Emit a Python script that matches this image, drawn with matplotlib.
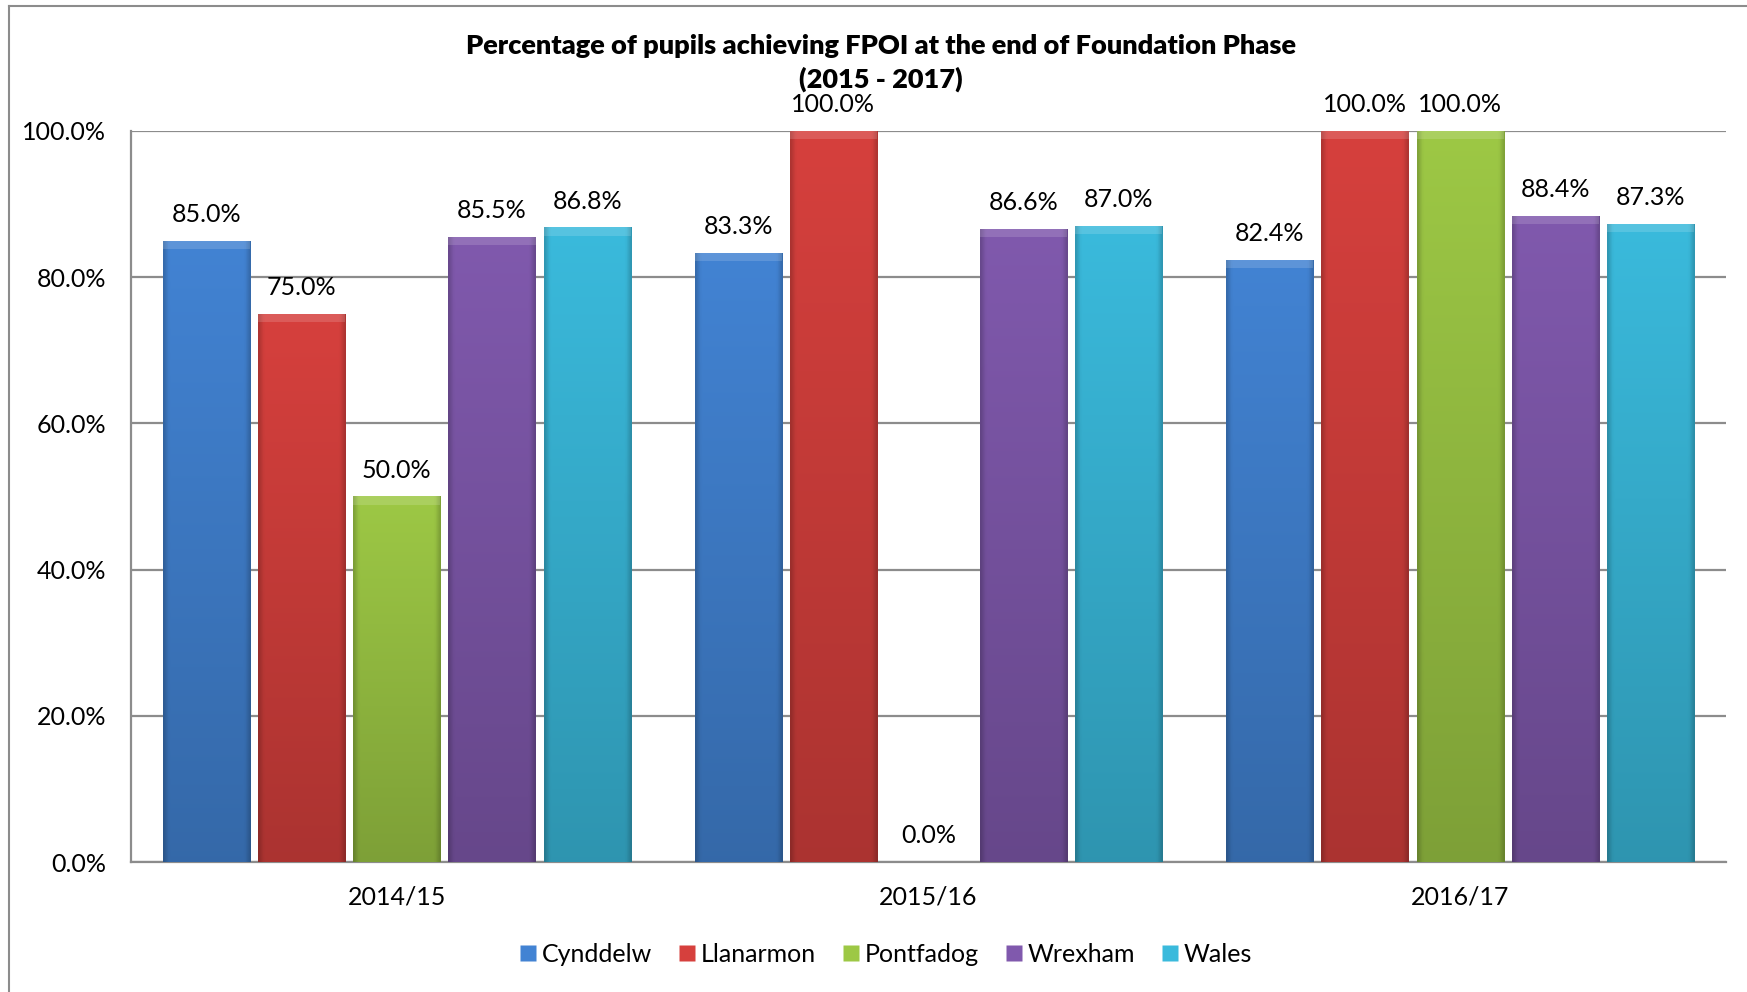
import numpy as np
import matplotlib
matplotlib.use("Agg")
from matplotlib import pyplot as plt
from matplotlib.lines import Line2D
from matplotlib.colors import to_rgb

# Data
years = ["2014/15", "2015/16", "2016/17"]
schools = ["Cynddelw", "Llanarmon", "Pontfadog", "Wrexham", "Wales"]
cynddelw = [85.0, 83.3, 82.4]
llanarmon = [75.0, 100.0, 100.0]
pontfadog = [50.0, 0.0, 100.0]
wrexham = [85.5, 86.6, 88.4]
wales = [86.8, 87.0, 87.3]
series = [cynddelw, llanarmon, pontfadog, wrexham, wales]

colors = ["#4283D3", "#D6403D", "#9DC845", "#8059AD", "#3ABADC"]

title = "Percentage of pupils achieving FPOI at the end of Foundation Phase\n(2015 - 2017)"

plt.rcParams["font.family"] = ["Lato", "DejaVu Sans"]

fig = plt.figure(figsize=(17.47, 9.92), dpi=100)
ax = fig.add_axes([131 / 1747, 1 - 862 / 992, (1726 - 131) / 1747, (862 - 131) / 992])

x = np.arange(len(years))
slot = 0.179
bw = 0.164
grid_col = "#8C8C8C"


def shade(color, w_px=40, h_px=200):
    """vertical + edge shading to fake the bevelled look"""
    base = np.array(to_rgb(color))
    v = np.linspace(1.0, 0.80, h_px)[:, None]
    u = np.linspace(0, 1, w_px)[None, :]
    edge = 1 - 0.18 * (np.clip(1 - u / 0.06, 0, 1) + np.clip((u - 0.94) / 0.06, 0, 1))
    f = v * edge
    img = base[None, None, :] * f[:, :, None]
    return np.clip(img, 0, 1)


for i, (vals, col) in enumerate(zip(series, colors)):
    pos = x + (i - 2) * slot
    bars = ax.bar(pos, vals, width=bw, color=col, zorder=3, edgecolor="none")
    for b, v in zip(bars, vals):
        if v > 0:
            img = shade(col)
            im = ax.imshow(img, extent=[b.get_x(), b.get_x() + b.get_width(), 0, v],
                           aspect="auto", zorder=4, interpolation="bilinear")
            im.set_clip_path(b)
            # lighter bevel on top
            ax.bar(b.get_x() + b.get_width() / 2, 1.1, bottom=v - 1.1, width=b.get_width(),
                   color="white", alpha=0.15, zorder=5, edgecolor="none")
        ax.annotate(f"{v:.1f}%", (b.get_x() + b.get_width() / 2, v),
                    xytext=(0, 19), textcoords="offset points",
                    ha="center", va="center", fontsize=18, zorder=6)

ax.set_xlim(-0.5, 2.5)
ax.set_ylim(0, 100)
ax.set_yticks([0, 20, 40, 60, 80, 100])
ax.set_yticklabels([f"{t:.1f}%" for t in [0, 20, 40, 60, 80, 100]])
ax.set_xticks(x)
ax.set_xticklabels(years)
ax.tick_params(axis="both", length=0, labelsize=18)
ax.tick_params(axis="y", pad=18)
ax.tick_params(axis="x", pad=17)
ax.yaxis.grid(True, color=grid_col, linewidth=1.6, zorder=1)
ax.set_axisbelow(True)
for s in ["top", "right"]:
    ax.spines[s].set_visible(False)
for s in ["left", "bottom"]:
    ax.spines[s].set_color(grid_col)
    ax.spines[s].set_linewidth(1.6)

fig.text(881 / 1747, 1 - 63 / 992, title, ha="center", va="center",
         fontsize=19.5, fontweight="heavy", linespacing=1.45)

handles = [Line2D([], [], marker="s", linestyle="none", markersize=11,
                  markerfacecolor=c, markeredgecolor="none") for c in colors]
fig.legend(handles, schools, loc="center", bbox_to_anchor=(886 / 1747, 1 - 954 / 992),
           ncol=5, frameon=False, fontsize=18, handlelength=0.7, handletextpad=0.2,
           columnspacing=1.05)

# outer chart frame (left and top edges)
fig.add_artist(Line2D([9 / 1747, 9 / 1747], [0, 1 - 6 / 992], transform=fig.transFigure,
                      color=grid_col, linewidth=1.5))
fig.add_artist(Line2D([9 / 1747, 1], [1 - 6 / 992, 1 - 6 / 992], transform=fig.transFigure,
                      color=grid_col, linewidth=1.5))

plt.savefig("out.png", dpi=100)
